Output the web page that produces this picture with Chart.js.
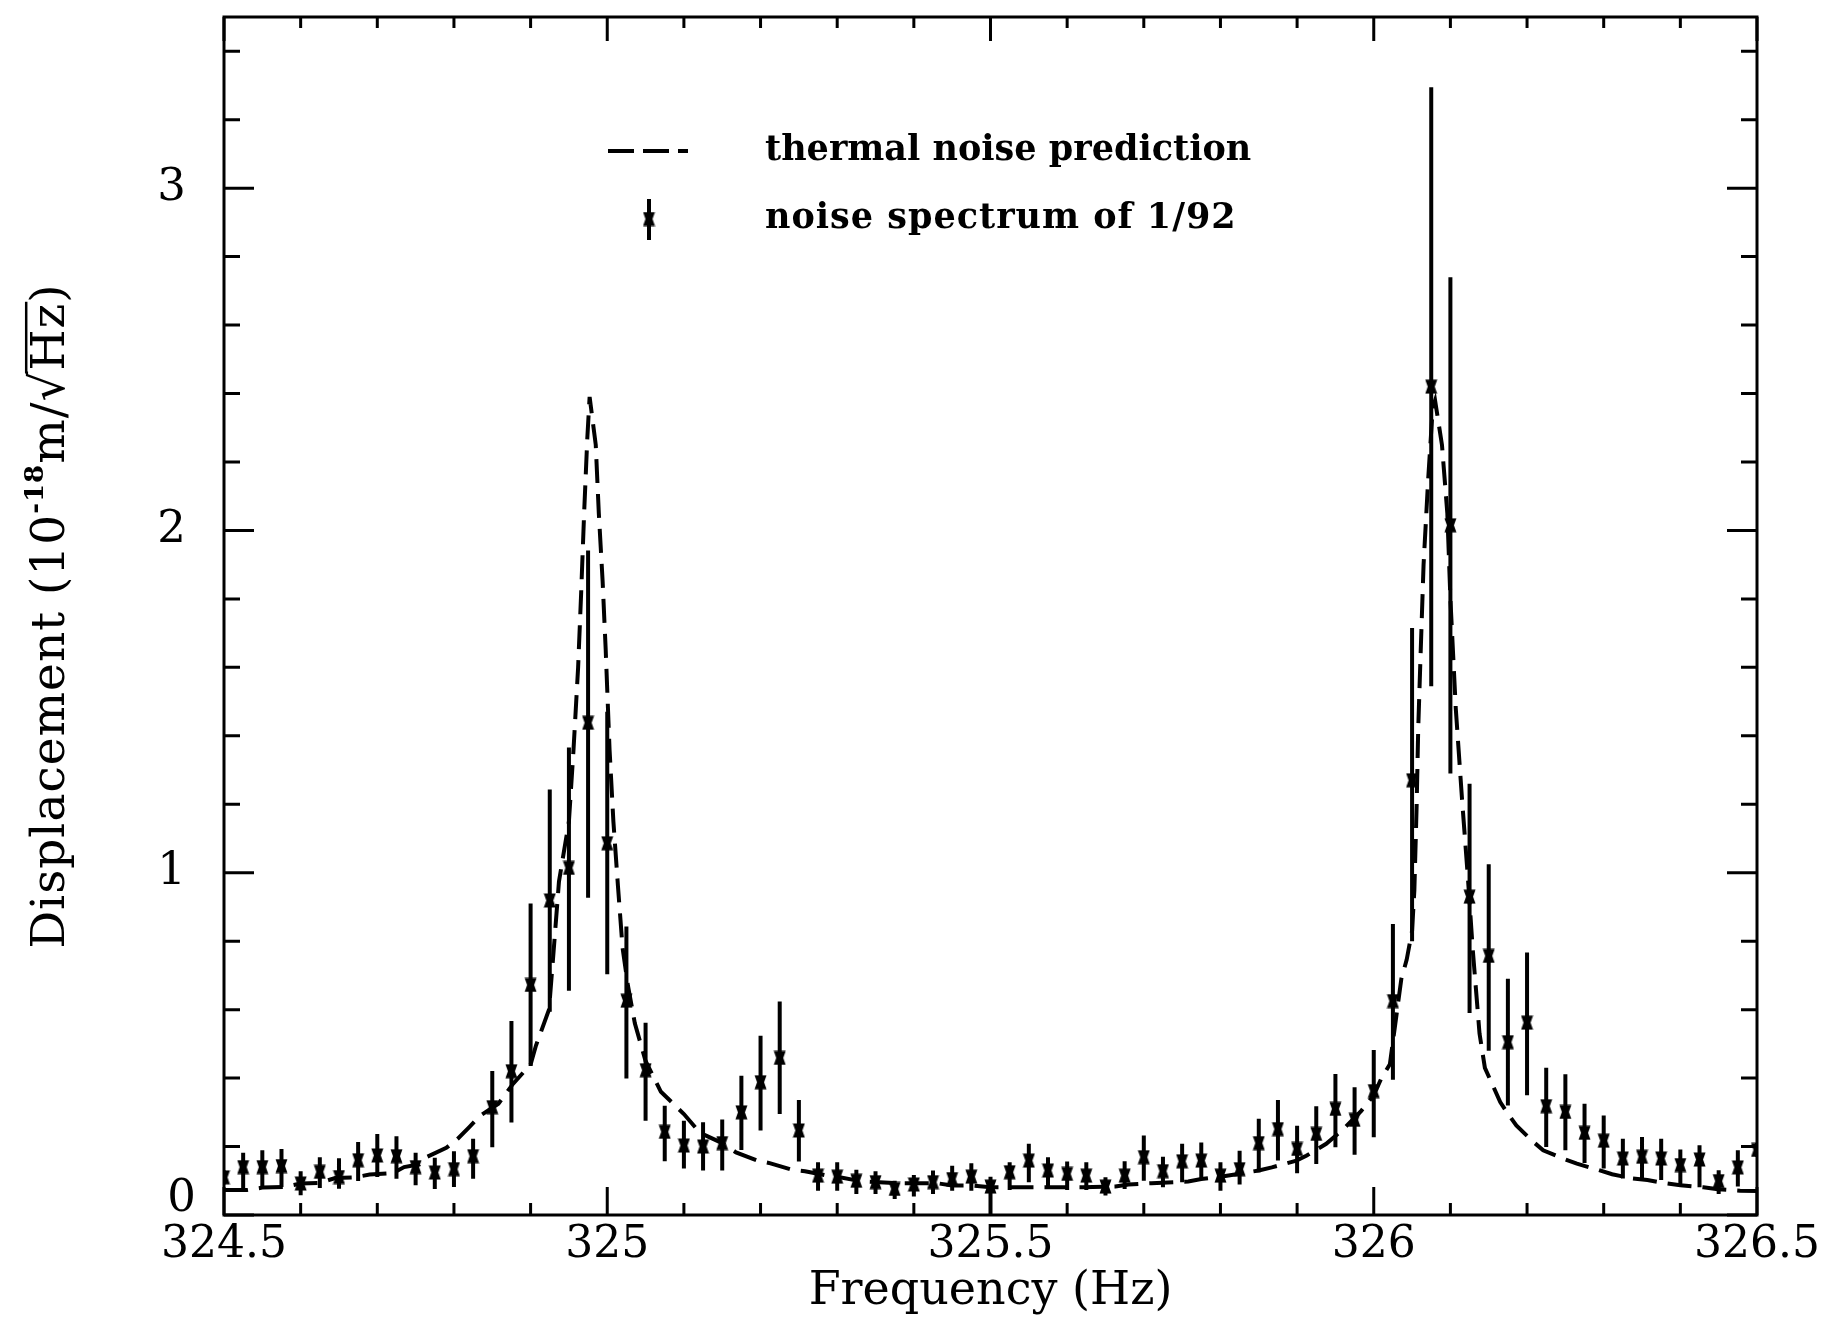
<!DOCTYPE html>
<html lang="en">

  <head>
    <meta charset="UTF-8">
    <title>Thermal noise spectrum</title>
    <script src="https://cdn.jsdelivr.net/npm/chart.js"></script>
    <style>
      html, body {
        margin: 0;
        padding: 0;
        background: #fff;
      }
      .chart-container {
        width: 1827px;
        height: 1322px;
      }
    </style>
  </head>

  <body>
    <div class="chart-container">
      <canvas id="noiseChart" width="1827" height="1322"></canvas>
    </div>

    <script>
      // measured spectrum, one value per 0.025 Hz bin
      const binFreq = [
        324.500, 324.525, 324.550, 324.575, 324.600, 324.625, 324.650, 324.675, 324.700, 324.725,
        324.750, 324.775, 324.800, 324.825, 324.850, 324.875, 324.900, 324.925, 324.950, 324.975,
        325.000, 325.025, 325.050, 325.075, 325.100, 325.125, 325.150, 325.175, 325.200, 325.225,
        325.250, 325.275, 325.300, 325.325, 325.350, 325.375, 325.400, 325.425, 325.450, 325.475,
        325.500, 325.525, 325.550, 325.575, 325.600, 325.625, 325.650, 325.675, 325.700, 325.725,
        325.750, 325.775, 325.800, 325.825, 325.850, 325.875, 325.900, 325.925, 325.950, 325.975,
        326.000, 326.025, 326.050, 326.075, 326.100, 326.125, 326.150, 326.175, 326.200, 326.225,
        326.250, 326.275, 326.300, 326.325, 326.350, 326.375, 326.400, 326.425, 326.450, 326.475,
        326.500
      ];
      const binAmp = [
        0.110, 0.140, 0.140, 0.143, 0.092, 0.126, 0.111, 0.160, 0.174, 0.172,
        0.140, 0.124, 0.134, 0.172, 0.315, 0.420, 0.672, 0.919, 1.014, 1.438,
        1.086, 0.626, 0.423, 0.243, 0.203, 0.200, 0.210, 0.300, 0.388, 0.459,
        0.247, 0.115, 0.112, 0.100, 0.096, 0.076, 0.089, 0.096, 0.105, 0.112,
        0.083, 0.125, 0.159, 0.130, 0.120, 0.115, 0.083, 0.115, 0.169, 0.128,
        0.157, 0.159, 0.115, 0.134, 0.210, 0.251, 0.193, 0.237, 0.310, 0.278,
        0.362, 0.625, 1.270, 2.420, 2.015, 0.930, 0.757, 0.505, 0.562, 0.318,
        0.301, 0.240, 0.217, 0.165, 0.170, 0.165, 0.146, 0.162, 0.099, 0.139,
        0.190
      ];
      const binLow = [
        0.090, 0.073, 0.079, 0.082, 0.058, 0.079, 0.077, 0.099, 0.111, 0.106,
        0.087, 0.076, 0.082, 0.106, 0.198, 0.270, 0.435, 0.594, 0.655, 0.927,
        0.703, 0.399, 0.275, 0.157, 0.136, 0.130, 0.130, 0.190, 0.247, 0.295,
        0.156, 0.071, 0.071, 0.061, 0.061, 0.047, 0.054, 0.061, 0.071, 0.071,
        0.003, 0.073, 0.096, 0.078, 0.073, 0.073, 0.057, 0.076, 0.100, 0.081,
        0.096, 0.102, 0.071, 0.089, 0.125, 0.159, 0.122, 0.149, 0.198, 0.176,
        0.227, 0.395, 0.800, 1.545, 1.290, 0.590, 0.480, 0.320, 0.350, 0.199,
        0.189, 0.152, 0.136, 0.107, 0.107, 0.102, 0.087, 0.081, 0.061, 0.083,
        0.170
      ];
      const binHigh = [
        0.130, 0.182, 0.189, 0.193, 0.128, 0.169, 0.166, 0.213, 0.237, 0.230,
        0.182, 0.167, 0.186, 0.223, 0.421, 0.567, 0.910, 1.243, 1.366, 1.941,
        1.470, 0.843, 0.562, 0.319, 0.275, 0.271, 0.279, 0.407, 0.524, 0.624,
        0.336, 0.154, 0.154, 0.132, 0.128, 0.100, 0.117, 0.130, 0.144, 0.151,
        0.112, 0.154, 0.208, 0.169, 0.156, 0.154, 0.110, 0.157, 0.232, 0.170,
        0.208, 0.212, 0.154, 0.188, 0.281, 0.336, 0.261, 0.318, 0.412, 0.373,
        0.482, 0.850, 1.715, 3.295, 2.740, 1.260, 1.025, 0.690, 0.767, 0.430,
        0.411, 0.325, 0.291, 0.223, 0.228, 0.223, 0.191, 0.204, 0.131, 0.189,
        0.210
      ];

      // thermal noise prediction curve
      const predFreq = [
        324.500, 324.530, 324.550, 324.578, 324.600, 324.625, 324.645, 324.670, 324.690, 324.720,
        324.735, 324.755, 324.765, 324.790, 324.805, 324.820, 324.834, 324.858, 324.877, 324.900,
        324.907, 324.924, 324.930, 324.937, 324.950, 324.956, 324.962, 324.966, 324.970, 324.974,
        324.977, 324.985, 324.989, 324.994, 324.998, 325.003, 325.008, 325.014, 325.020, 325.027,
        325.036, 325.050, 325.070, 325.100, 325.121, 325.150, 325.168, 325.196, 325.213, 325.241,
        325.258, 325.287, 325.300, 325.332, 325.380, 325.430, 325.450, 325.475, 325.500, 325.575,
        325.620, 325.663, 325.680, 325.710, 325.740, 325.758, 325.775, 325.800, 325.823, 325.850,
        325.867, 325.899, 325.912, 325.938, 325.960, 325.984, 326.000, 326.010, 326.021, 326.036,
        326.043, 326.050, 326.053, 326.056, 326.058, 326.061, 326.065, 326.071, 326.077, 326.080,
        326.089, 326.096, 326.100, 326.107, 326.115, 326.123, 326.129, 326.138, 326.145, 326.155,
        326.165, 326.175, 326.186, 326.206, 326.221, 326.247, 326.265, 326.291, 326.311, 326.337,
        326.357, 326.383, 326.400, 326.430, 326.449, 326.478, 326.500
      ];
      const predAmp = [
        0.073, 0.073, 0.080, 0.082, 0.092, 0.094, 0.108, 0.110, 0.118, 0.122,
        0.140, 0.148, 0.170, 0.196, 0.223, 0.257, 0.290, 0.325, 0.383, 0.440,
        0.495, 0.600, 0.770, 0.974, 1.150, 1.360, 1.600, 1.820, 2.060, 2.270,
        2.390, 2.250, 2.050, 1.850, 1.650, 1.360, 1.150, 0.960, 0.780, 0.670,
        0.560, 0.450, 0.360, 0.295, 0.240, 0.210, 0.183, 0.159, 0.151, 0.132,
        0.128, 0.115, 0.112, 0.098, 0.093, 0.093, 0.086, 0.086, 0.081, 0.081,
        0.081, 0.083, 0.089, 0.093, 0.096, 0.098, 0.105, 0.112, 0.120, 0.130,
        0.139, 0.159, 0.173, 0.208, 0.250, 0.305, 0.350, 0.400, 0.440, 0.690,
        0.746, 0.830, 0.950, 1.200, 1.420, 1.630, 1.900, 2.150, 2.360, 2.380,
        2.250, 2.050, 1.800, 1.480, 1.220, 0.980, 0.780, 0.530, 0.430, 0.380,
        0.330, 0.296, 0.262, 0.218, 0.189, 0.165, 0.150, 0.133, 0.119, 0.107,
        0.102, 0.092, 0.087, 0.081, 0.075, 0.071, 0.070
      ];

      const xTickValues = [324.5, 325, 325.5, 326, 326.5];
      const xTickLabels = ['324.5', '325', '325.5', '326', '326.5'];
      const yTickValues = [0, 1, 2, 3];
      const yTickLabels = ['0', '1', '2', '3'];

      const FONT = '"DejaVu Serif", serif';
      const DASH = [24, 11];

      // notched block used as the data marker
      function makeMarker() {
        const c = document.createElement('canvas');
        c.width = 13;
        c.height = 15;
        const g = c.getContext('2d');
        g.fillStyle = '#000';
        g.beginPath();
        g.moveTo(0.5, 0.5);
        g.lineTo(12.5, 0.5);
        g.lineTo(10, 7.5);
        g.lineTo(12.5, 14.5);
        g.lineTo(0.5, 14.5);
        g.lineTo(3, 7.5);
        g.closePath();
        g.fill();
        return c;
      }
      const marker = makeMarker();

      // vertical error bars, drawn under the markers
      const errorBars = {
        id: 'errorBars',
        beforeDatasetsDraw(chart) {
          const { ctx, chartArea: a, scales: { x, y } } = chart;
          ctx.save();
          ctx.beginPath();
          ctx.rect(a.left, a.top, a.right - a.left, a.bottom - a.top);
          ctx.clip();
          ctx.strokeStyle = '#000';
          ctx.lineWidth = 4;
          ctx.beginPath();
          binFreq.forEach((f, i) => {
            const px = x.getPixelForValue(f);
            ctx.moveTo(px, y.getPixelForValue(binLow[i]));
            ctx.lineTo(px, y.getPixelForValue(binHigh[i]));
          });
          ctx.stroke();
          ctx.restore();
        }
      };

      // box, inward ticks on all sides, y labels, y title and key
      const frame = {
        id: 'frame',
        afterDraw(chart) {
          const { ctx, chartArea: a, scales: { x, y } } = chart;
          ctx.save();
          ctx.strokeStyle = '#000';
          ctx.lineWidth = 3;
          ctx.strokeRect(a.left, a.top, a.right - a.left, a.bottom - a.top);

          ctx.beginPath();
          for (let i = 0; i <= 20; i++) {
            const px = x.getPixelForValue(324.5 + i * 0.1);
            const major = i % 5 === 0;
            ctx.moveTo(px, a.bottom);
            ctx.lineTo(px, a.bottom - (major ? 28 : 12));
            ctx.moveTo(px, a.top);
            ctx.lineTo(px, a.top + (major ? 24 : 11));
          }
          for (let j = 0; j <= 17; j++) {
            const py = y.getPixelForValue(j * 0.2);
            const major = j % 5 === 0;
            ctx.moveTo(a.left, py);
            ctx.lineTo(a.left + (major ? 30 : 16), py);
            ctx.moveTo(a.right, py);
            ctx.lineTo(a.right - (major ? 30 : 16), py);
          }
          ctx.stroke();

          // y tick labels, the zero sits a little higher and further in
          ctx.fillStyle = '#000';
          ctx.font = `45px ${FONT}`;
          ctx.textAlign = 'right';
          ctx.textBaseline = 'middle';
          yTickValues.forEach((v, i) => {
            const zero = v === 0;
            ctx.fillText(yTickLabels[i], a.left - (zero ? 28 : 38), y.getPixelForValue(v) - (zero ? 16 : 0));
          });

          drawYTitle(ctx, 64, (a.top + a.bottom) / 2);

          // key
          ctx.lineWidth = 4;
          ctx.setLineDash([26, 9]);
          ctx.beginPath();
          ctx.moveTo(608, 151);
          ctx.lineTo(688, 151);
          ctx.stroke();
          ctx.setLineDash([]);
          ctx.beginPath();
          ctx.moveTo(649, 199);
          ctx.lineTo(649, 240);
          ctx.stroke();
          ctx.drawImage(marker, 649 - 6.5, 219 - 7.5);

          ctx.font = `bold 35px ${FONT}`;
          ctx.textAlign = 'left';
          ctx.textBaseline = 'middle';
          ctx.letterSpacing = '0px';
          ctx.fillText('thermal noise prediction', 765, 151);
          ctx.letterSpacing = '1px';
          ctx.fillText('noise spectrum of 1/92', 765, 219);
          ctx.restore();
        }
      };

      function drawYTitle(ctx, baseX, centerY) {
        const size = 47;
        const parts = [
          { t: 'Displacement (10', s: 1, rise: 0 },
          { t: '-18', s: 0.55, rise: 0.45 },
          { t: 'm/', s: 1, rise: 0 },
          { t: '\u221A', s: 1, rise: 0 },
          { t: 'Hz', s: 1, rise: 0, bar: true },
          { t: ')', s: 1, rise: 0 }
        ];
        ctx.save();
        ctx.letterSpacing = '1px';
        let total = 0;
        parts.forEach(p => {
          ctx.font = `${p.s === 1 ? '' : 'bold '}${Math.round(size * p.s)}px ${FONT}`;
          p.w = ctx.measureText(p.t).width;
          total += p.w;
        });
        ctx.translate(baseX, centerY);
        ctx.rotate(-Math.PI / 2);
        ctx.fillStyle = '#000';
        ctx.strokeStyle = '#000';
        ctx.textAlign = 'left';
        ctx.textBaseline = 'alphabetic';
        let pos = -total / 2;
        let rootTop = 0;
        let rootEnd = 0;
        parts.forEach(p => {
          ctx.font = `${p.s === 1 ? '' : 'bold '}${Math.round(size * p.s)}px ${FONT}`;
          ctx.fillText(p.t, pos, -p.rise * size);
          if (p.t === '\u221A') {
            rootTop = ctx.measureText(p.t).actualBoundingBoxAscent;
            rootEnd = pos + p.w;
          }
          if (p.bar) {
            ctx.lineWidth = 2.5;
            ctx.beginPath();
            ctx.moveTo(rootEnd - 3, -rootTop + 1.2);
            ctx.lineTo(pos + p.w + 1, -rootTop + 1.2);
            ctx.stroke();
          }
          pos += p.w;
        });
        ctx.restore();
      }

      const ctx = document.getElementById('noiseChart').getContext('2d');
      new Chart(ctx, {
        type: 'scatter',
        data: {
          datasets: [
            {
              label: 'noise spectrum of 1/92',
              data: binFreq.map((f, i) => ({ x: f, y: binAmp[i] })),
              pointStyle: marker,
              pointRadius: 7,
              showLine: false
            },
            {
              type: 'line',
              label: 'thermal noise prediction',
              data: predFreq.map((f, i) => ({ x: f, y: predAmp[i] })),
              borderColor: '#000',
              borderWidth: 4,
              borderDash: DASH,
              pointRadius: 0,
              tension: 0,
              fill: false
            }
          ]
        },
        options: {
          responsive: false,
          animation: false,
          devicePixelRatio: 1,
          layout: { padding: { top: 17, right: 70, bottom: 0, left: 0 } },
          plugins: {
            legend: { display: false },
            tooltip: { enabled: false }
          },
          scales: {
            x: {
              type: 'linear',
              min: 324.5,
              max: 326.5,
              border: { display: false },
              grid: { display: false, drawTicks: false },
              afterBuildTicks: scale => {
                scale.ticks = xTickValues.map(v => ({ value: v }));
              },
              afterFit: scale => { scale.height = 107; },
              ticks: {
                autoSkip: false,
                maxRotation: 0,
                padding: 4,
                color: '#000',
                font: { family: FONT, size: 44 },
                callback: (value, index) => xTickLabels[index]
              },
              title: {
                display: true,
                text: 'Frequency (Hz)',
                color: '#000',
                font: { family: FONT, size: 46 },
                padding: { top: 0, bottom: 2 }
              }
            },
            y: {
              type: 'linear',
              min: 0,
              max: 3.5,
              border: { display: false },
              grid: { display: false, drawTicks: false },
              afterFit: scale => { scale.width = 224; },
              ticks: { display: false }
            }
          }
        },
        plugins: [errorBars, frame]
      });
    </script>
  </body>

</html>
